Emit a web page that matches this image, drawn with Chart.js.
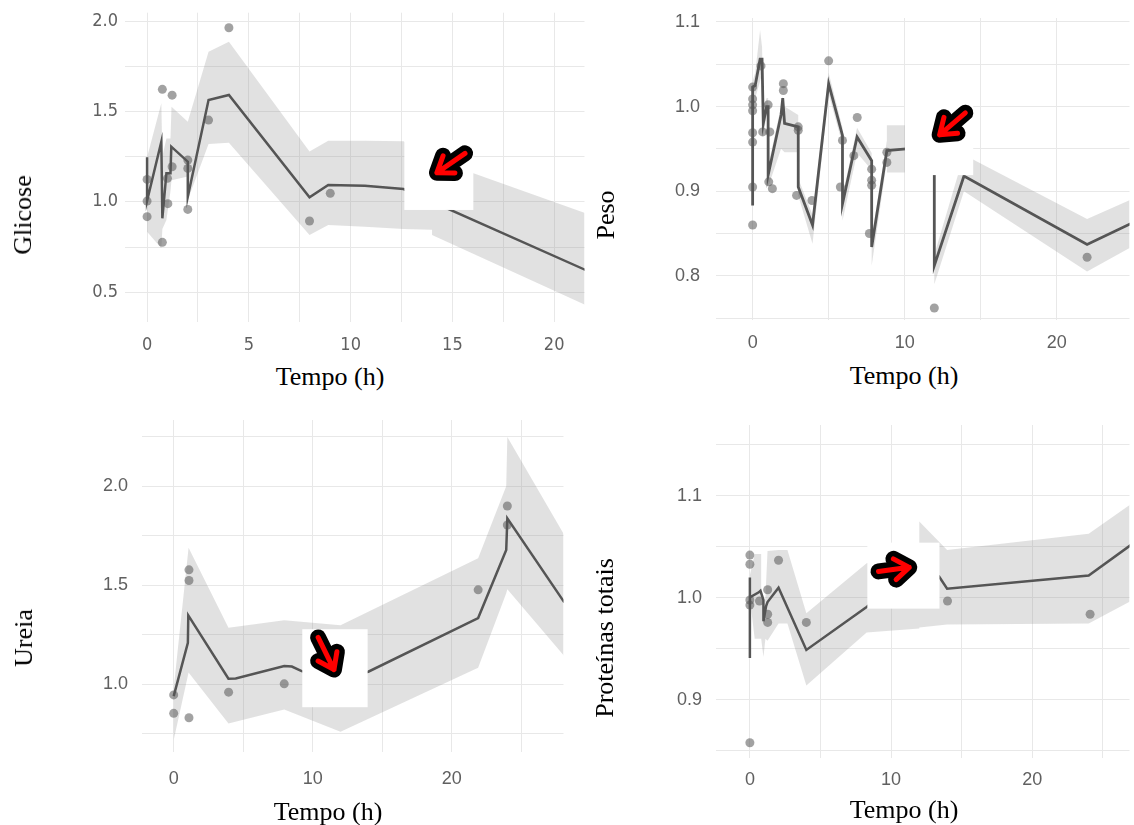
<!DOCTYPE html>
<html><head><meta charset="utf-8">
<script src="https://cdn.jsdelivr.net/npm/chart.js@4.4.1/dist/chart.umd.min.js"></script>
<style>
html,body{margin:0;padding:0;background:#fff;}
#wrap{position:relative;width:1134px;height:825px;overflow:hidden;background:#fff;}
.pan{position:absolute;}
.ttl{position:absolute;font-family:'Liberation Serif','Times New Roman',serif;font-size:26px;color:#000;white-space:nowrap;line-height:1;transform:translate(-50%,-50%);}
.ttl.v{transform:translate(-50%,-50%) rotate(-90deg);}
</style></head>
<body><div id="wrap">
<div class="pan" style="left:0;top:0;width:589px;height:360px"><canvas id="c1"></canvas></div>
<div class="pan" style="left:590px;top:0;width:544px;height:360px"><canvas id="c2"></canvas></div>
<div class="pan" style="left:0;top:400px;width:568px;height:425px"><canvas id="c3"></canvas></div>
<div class="pan" style="left:590px;top:400px;width:544px;height:425px"><canvas id="c4"></canvas></div>
<div class="ttl v" style="left:23px;top:215px">Glicose</div>
<div class="ttl" style="left:330px;top:377px">Tempo (h)</div>
<div class="ttl v" style="left:606px;top:215px">Peso</div>
<div class="ttl" style="left:904px;top:376px">Tempo (h)</div>
<div class="ttl v" style="left:24px;top:638px">Ureia</div>
<div class="ttl" style="left:328px;top:812px">Tempo (h)</div>
<div class="ttl v" style="left:605px;top:638px">Proteínas totais</div>
<div class="ttl" style="left:904px;top:810px">Tempo (h)</div>
</div>
<script>
// ---------- Glicose ----------
const glicPtX = [0, 0, 0, 0.75, 0.75, 1.02, 1.0, 1.23, 1.23, 2.0, 2.0, 2.0, 3.02, 4.02, 7.98, 9.0];
const glicPtY = [1.124, 1.004, 0.918, 1.622, 0.776, 0.99, 1.13, 1.59, 1.194, 1.231, 1.185, 0.958, 1.452, 1.963, 0.894, 1.047];
const glicLineX = [0, 0, 0.7, 0.75, 0.95, 1.15, 1.19, 2.0, 2.0, 3.02, 4.02, 7.98, 8.9, 10.7, 12.6, 22];
const glicLineY = [1.246, 1.006, 1.333, 0.909, 1.158, 1.158, 1.305, 1.222, 1.028, 1.563, 1.591, 1.025, 1.093, 1.089, 1.071, 0.60];
const glicBandX  = [0, 0.7, 0.75, 0.95, 1.15, 1.2, 2.0, 2.0, 3.02, 4.02, 7.98, 8.9, 10.7, 12.6, 14.0, 14.0, 22];
const glicBandUp = [1.246, 1.545, 1.25, 1.35, 1.35, 1.526, 1.443, 1.443, 1.83, 1.886, 1.278, 1.338, 1.338, 1.335, 1.24, 1.24, 0.918];
const glicBandLo = [0.835, 0.743, 0.85, 0.90, 1.06, 1.12, 1.14, 1.01, 1.32, 1.327, 0.816, 0.872, 0.862, 0.85, 0.846, 0.817, 0.406];

// ---------- Peso ----------
const pesoPtX = [0, 0, 0, 0, 0, 0, 0, 0, 0.55, 0.66, 1.02, 1.13, 1.06, 1.3, 2.02, 2.02, 3.0, 3.0, 2.89, 3.9, 5.0, 5.91, 5.77, 6.88, 6.66, 7.83, 7.83, 7.83, 7.68, 8.83, 8.83, 11.95, 22.0];
const pesoPtY = [1.023, 1.009, 1.002, 0.995, 0.969, 0.958, 0.905, 0.860, 1.048, 0.970, 1.002, 0.970, 0.911, 0.903, 1.027, 1.019, 0.976, 0.972, 0.895, 0.889, 1.054, 0.960, 0.905, 0.987, 0.942, 0.926, 0.913, 0.907, 0.850, 0.946, 0.934, 0.762, 0.822];
const pesoLineX = [0, 0, 0.17, 0.49, 0.62, 0.70, 0.92, 1.02, 1.02, 1.87, 1.98, 2.1, 3.0, 3.0, 3.94, 5.0, 5.91, 5.91, 6.87, 7.83, 7.83, 8.83, 10.1, 11.95, 11.95, 13.9, 22.0, 25.5];
const pesoLineY = [0.883, 1.023, 1.025, 1.056, 1.056, 0.98, 1.0, 1.0, 0.919, 0.99, 1.01, 0.98, 0.976, 0.905, 0.860, 1.027, 0.966, 0.885, 0.964, 0.936, 0.834, 0.948, 0.95, 0.95, 0.812, 0.918, 0.837, 0.867];
const pesoBandX  = [0, 0, 0.17, 0.49, 0.62, 0.70, 0.92, 1.02, 1.02, 1.87, 1.98, 2.1, 3.0, 3.0, 3.94, 5.0, 5.91, 5.91, 6.87, 7.83, 7.83, 8.83, 8.83, 10.1, 11.95, 11.95, 13.9, 22.0, 25.5];
const pesoBandUp = [0.89, 1.03, 1.04, 1.09, 1.07, 1.0, 1.01, 1.01, 0.93, 1.0, 1.012, 1.0, 0.99, 0.915, 0.872, 1.04, 0.975, 0.895, 0.975, 0.945, 0.845, 0.96, 0.978, 0.978, 0.96, 0.825, 0.943, 0.867, 0.895];
const pesoBandLo = [0.875, 1.015, 1.01, 1.03, 1.04, 0.965, 0.99, 0.99, 0.905, 0.95, 0.948, 0.946, 0.946, 0.895, 0.838, 1.015, 0.955, 0.865, 0.945, 0.925, 0.812, 0.935, 0.922, 0.922, 0.935, 0.79, 0.9, 0.805, 0.84];

// ---------- Ureia ----------
const ureiaPtX = [0, 0, 1.1, 1.1, 1.1, 3.95, 7.95, 21.9, 24, 24];
const ureiaPtY = [0.947, 0.854, 1.578, 1.524, 0.832, 0.961, 1.003, 1.477, 1.9, 1.804];
const ureiaLineX = [0, 1.02, 1.05, 3.94, 4.46, 7.95, 8.5, 9.2, 12.0, 14.0, 21.9, 23.92, 24.0, 28.1];
const ureiaLineY = [0.941, 1.21, 1.348, 1.029, 1.03, 1.093, 1.09, 1.067, 1.035, 1.064, 1.335, 1.678, 1.838, 1.414];
const ureiaBandX  = [0, 1.07, 3.94, 7.95, 12.0, 21.9, 23.92, 24.0, 28.1];
const ureiaBandUp = [0.98, 1.689, 1.286, 1.324, 1.299, 1.637, 2.0, 2.248, 1.754];
const ureiaBandLo = [0.72, 1.06, 0.803, 0.874, 0.761, 1.084, 1.46, 1.48, 1.142];

// ---------- Proteínas totais ----------
const protPtX = [0, 0, 0, 0, 0, 0.68, 1.26, 1.26, 1.26, 2.03, 4.0, 14.0, 24.1];
const protPtY = [1.042, 1.033, 0.998, 0.993, 0.858, 0.997, 1.008, 0.984, 0.976, 1.037, 0.976, 0.997, 0.984];
const protLineX = [0, 0, 0, 0.63, 0.75, 0.96, 0.96, 1.15, 1.25, 2.03, 4.0, 8.27, 12.0, 13.4, 13.97, 24.0, 27.0];
const protLineY = [0.941, 1.020, 1.0006, 1.0055, 1.007, 0.998, 0.977, 0.992, 0.996, 1.010, 0.949, 0.991, 1.032, 1.021, 1.009, 1.022, 1.052];
const protBandX  = [0, 0, 0.34, 0.8, 0.85, 0.96, 1.1, 1.25, 2.03, 2.66, 4.0, 8.27, 12.0, 12.0, 13.97, 24.0, 27.0];
const protBandUp = [0.945, 1.022, 1.043, 1.043, 1.0, 0.99, 1.0, 1.046, 1.047, 1.047, 0.985, 1.034, 1.045, 1.075, 1.047, 1.063, 1.092];
const protBandLo = [0.935, 1.0, 0.96, 0.96, 0.96, 0.942, 0.96, 0.958, 0.975, 0.975, 0.914, 0.966, 0.97, 0.971, 0.974, 0.975, 0.997];

// ---------- helpers ----------
const pts = (xs, ys) => xs.map((x, i) => ({x: x, y: ys[i]}));
const isMajor = (v, m) => Math.abs(v / m - Math.round(v / m)) < 1e-6;

const markerPlugin = {
  id: 'marker',
  afterDraw(chart, args, o) {
    if (!o || !o.box) return;
    const ctx = chart.ctx, sx = chart.scales.x, sy = chart.scales.y;
    const X = v => sx.getPixelForValue(v), Y = v => sy.getPixelForValue(v);
    const bx0 = X(o.box[0]), bx1 = X(o.box[1]), by0 = Y(o.box[2]), by1 = Y(o.box[3]);
    ctx.save();
    ctx.fillStyle = '#ffffff';
    ctx.fillRect(bx0, by0, bx1 - bx0, by1 - by0);
    const tx = X(o.tail[0]), ty = Y(o.tail[1]), hx = X(o.head[0]), hy = Y(o.head[1]);
    const ang = Math.atan2(ty - hy, tx - hx);
    const L = 18, a = 0.62;
    const p1 = [hx + L * Math.cos(ang - a), hy + L * Math.sin(ang - a)];
    const p2 = [hx + L * Math.cos(ang + a), hy + L * Math.sin(ang + a)];
    const path = () => {
      ctx.beginPath();
      ctx.moveTo(tx, ty); ctx.lineTo(hx, hy);
      ctx.moveTo(p1[0], p1[1]); ctx.lineTo(hx, hy); ctx.lineTo(p2[0], p2[1]);
    };
    ctx.lineCap = 'round'; ctx.lineJoin = 'round';
    path(); ctx.strokeStyle = '#000000'; ctx.lineWidth = 16; ctx.stroke();
    path(); ctx.strokeStyle = '#ff0000'; ctx.lineWidth = 5; ctx.stroke();
    ctx.restore();
  }
};

function build(id, L, d) {
  const tickColor = '#606060';
  const font = {family: L.font, size: 18};
  new Chart(document.getElementById(id), {
    type: 'line',
    data: {datasets: [
      {data: pts(d.px, d.py), showLine: false, pointRadius: 4.5, pointHoverRadius: 4.5,
       pointBackgroundColor: 'rgba(85,85,85,0.55)', pointBorderWidth: 0, order: 1},
      {data: pts(d.lx, d.ly), borderColor: '#555555', borderWidth: L.lw, pointRadius: 0,
       fill: false, tension: 0, order: 2},
      {data: pts(d.bx, d.bu), borderWidth: 0, borderColor: 'rgba(0,0,0,0)', pointRadius: 0,
       fill: false, tension: 0, order: 4},
      {data: pts(d.bx, d.bl), borderWidth: 0, borderColor: 'rgba(0,0,0,0)', pointRadius: 0,
       fill: '-1', backgroundColor: 'rgba(140,140,140,0.26)', tension: 0, order: 3}
    ]},
    options: {
      responsive: true, maintainAspectRatio: false, animation: false, events: [],
      layout: {padding: {top: L.padTop, left: 0, right: 0, bottom: 0}},
      plugins: {legend: {display: false}, tooltip: {enabled: false}, marker: L.marker},
      scales: {
        x: {type: 'linear', min: L.xmin, max: L.xmax,
            grid: {color: '#e8e8e8', lineWidth: 1, drawTicks: false}, border: {display: false},
            ticks: {stepSize: L.xStep, autoSkip: false, maxRotation: 0, includeBounds: false,
                    padding: L.xPad, color: tickColor, font: font,
                    callback: v => isMajor(v, L.xMajor) ? String(v) : ''},
            afterFit: s => { s.height = L.xAxisH; s.paddingLeft = 0; s.paddingRight = 0; }},
        y: {type: 'linear', min: L.ymin, max: L.ymax,
            grid: {color: '#e8e8e8', lineWidth: 1, drawTicks: false}, border: {display: false},
            ticks: {stepSize: L.yStep, autoSkip: false, includeBounds: false,
                    padding: L.yPad, color: tickColor, font: font,
                    callback: v => isMajor(v, L.yMajor) ? v.toFixed(1) : ''},
            afterFit: s => { s.width = L.yAxisW; s.paddingTop = 0; s.paddingBottom = 0; }}
      }
    },
    plugins: [markerPlugin]
  });
}

const narrow = "'Liberation Sans Narrow','Arial Narrow','DejaVu Sans Condensed','Liberation Sans',sans-serif";
const regular = "'Liberation Sans',Arial,sans-serif";

build('c1', {font: narrow, lw: 2.5, padTop: 12.7, xAxisH: 38.3, yAxisW: 125, xPad: 12.5, yPad: 7,
  xmin: -1.085, xmax: 21.49, ymin: 0.337, ymax: 2.046, xStep: 2.5, xMajor: 5, yStep: 0.25, yMajor: 0.5,
  marker: {box: [12.64, 16.03, 1.342, 0.955], tail: [15.62, 1.268], head: [14.24, 1.161]}},
  {px: glicPtX, py: glicPtY, lx: glicLineX, ly: glicLineY, bx: glicBandX, bu: glicBandUp, bl: glicBandLo});

build('c2', {font: regular, lw: 2.8, padTop: 18, xAxisH: 40, yAxisW: 126, xPad: 12.5, yPad: 16,
  xmin: -2.41, xmax: 24.79, ymin: 0.7478, ymax: 1.1046, xStep: 5, xMajor: 10, yStep: 0.05, yMajor: 0.1,
  marker: {box: [10.02, 14.51, 1.002, 0.919], tail: [13.99, 0.9926], head: [12.30, 0.9666]}},
  {px: pesoPtX, py: pesoPtY, lx: pesoLineX, ly: pesoLineY, bx: pesoBandX, bu: pesoBandUp, bl: pesoBandLo});

build('c3', {font: regular, lw: 2.5, padTop: 20, xAxisH: 73, yAxisW: 142, xPad: 16.2, yPad: 14,
  xmin: -2.28, xmax: 28.04, ymin: 0.659, ymax: 2.334, xStep: 5, xMajor: 10, yStep: 0.25, yMajor: 0.5,
  marker: {box: [9.25, 13.95, 1.2785, 0.885], tail: [10.39, 1.237], head: [11.53, 1.075]}},
  {px: ureiaPtX, py: ureiaPtY, lx: ureiaLineX, ly: ureiaLineY, bx: ureiaBandX, bu: ureiaBandUp, bl: ureiaBandLo});

build('c4', {font: regular, lw: 2.5, padTop: 25, xAxisH: 67, yAxisW: 126, xPad: 11.2, yPad: 14,
  xmin: -2.40, xmax: 26.89, ymin: 0.843, ymax: 1.1696, xStep: 5, xMajor: 10, yStep: 0.05, yMajor: 0.1,
  marker: {box: [8.32, 13.43, 1.0542, 0.9895], tail: [9.11, 1.026], head: [11.29, 1.030]}},
  {px: protPtX, py: protPtY, lx: protLineX, ly: protLineY, bx: protBandX, bu: protBandUp, bl: protBandLo});
</script>
</body></html>
